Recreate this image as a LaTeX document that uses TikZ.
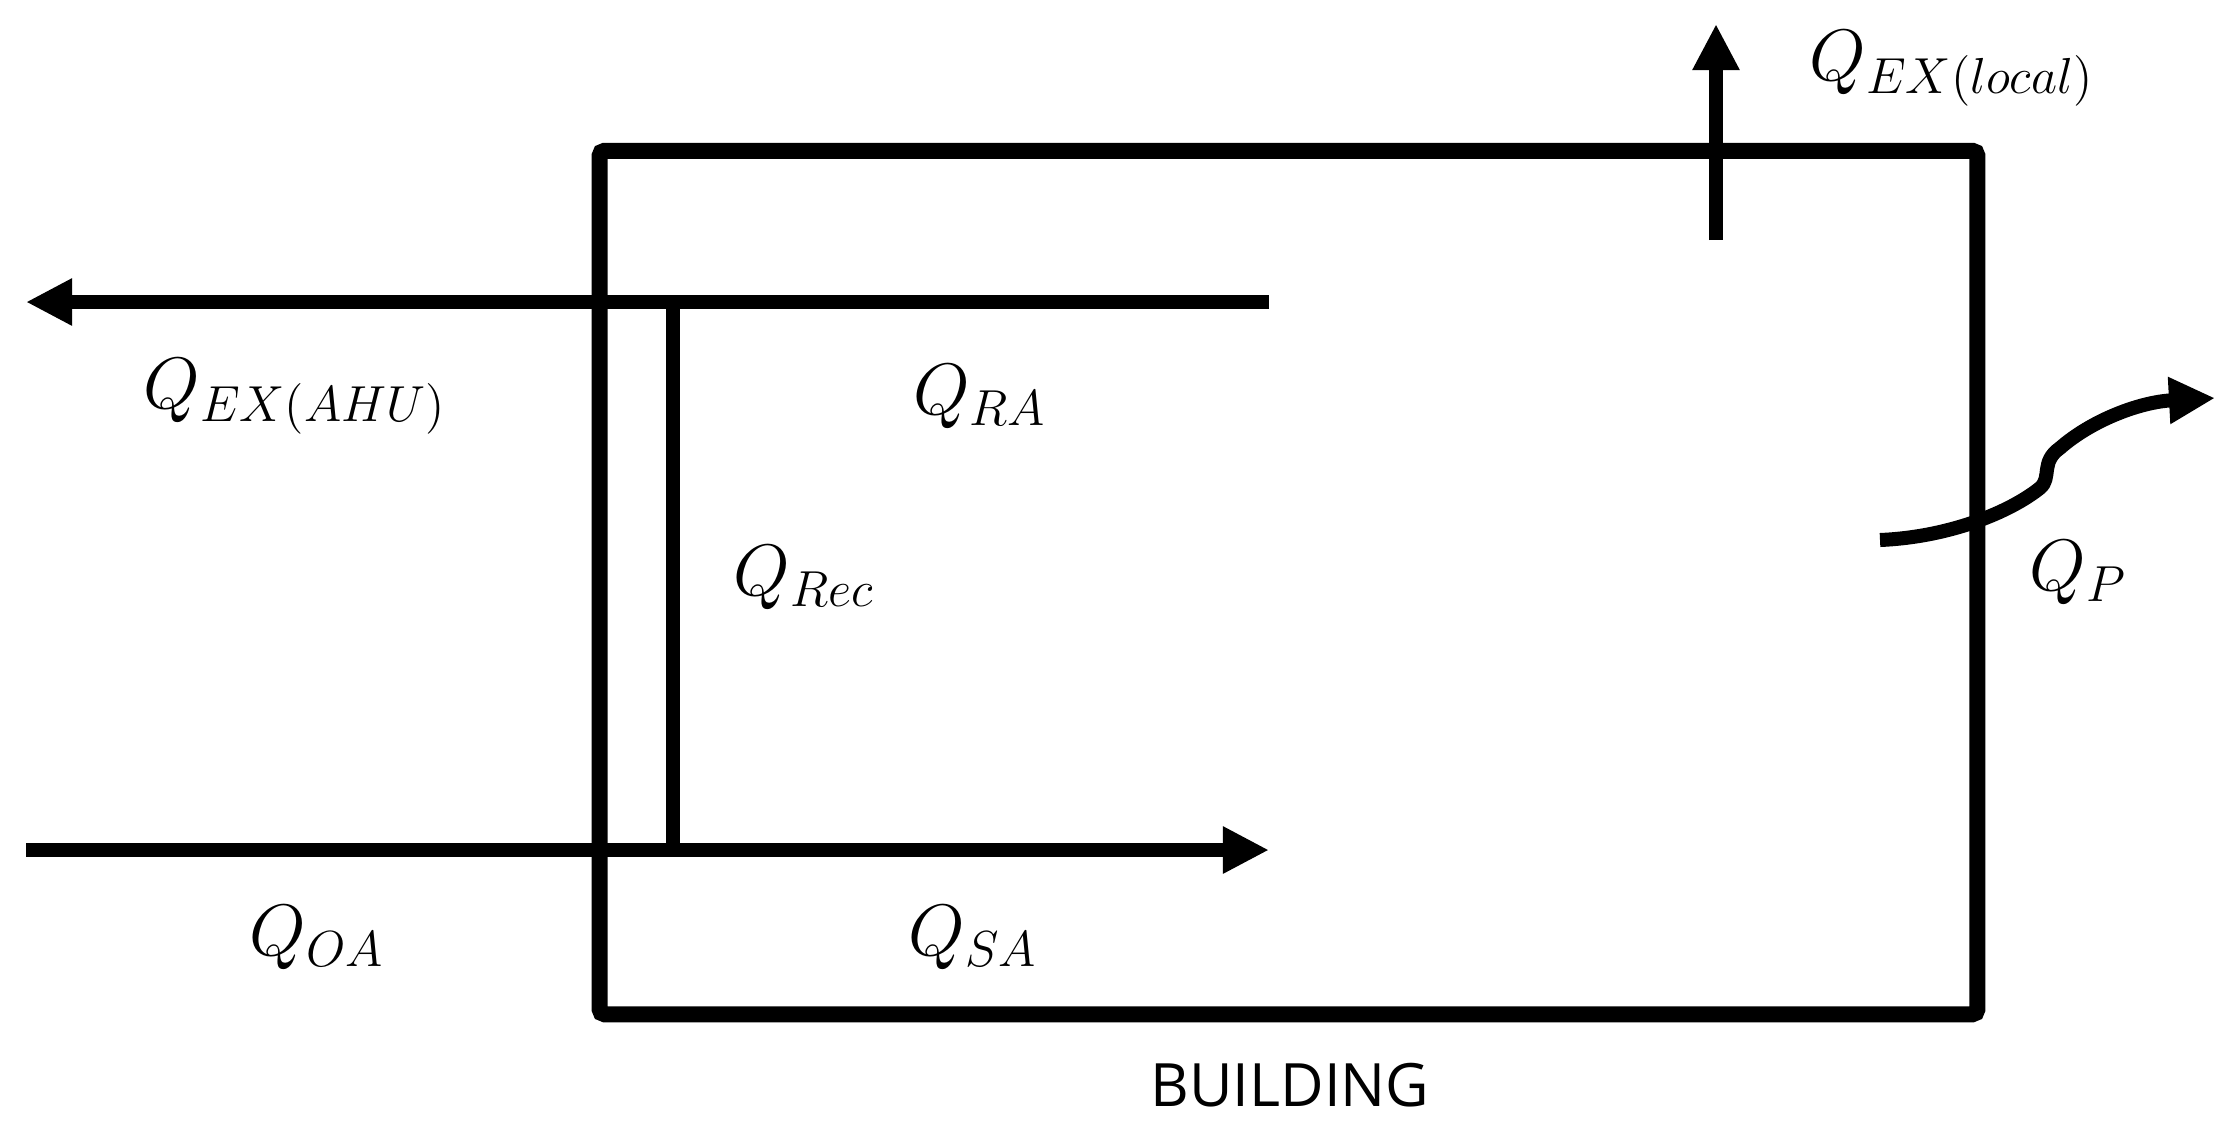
\documentclass[tikz,border=0pt]{standalone}
\usepackage{fontspec}
\newfontfamily\bldfont{Open Sans}
\usetikzlibrary{arrows.meta}
\begin{document}
\begin{tikzpicture}[x=0.01cm,y=-0.01cm,
  wall/.style={line width=0.16cm, rounded corners=0.05cm},
  flow/.style={line width=0.14cm},
  flowarrow/.style={flow, -{Triangle[length=0.46cm,width=0.44cm]}},
  lbl/.style={inner sep=0pt, font=\fontsize{22}{26}\selectfont},
  bldlbl/.style={inner sep=0pt, font=\bldfont\fontsize{17}{20}\selectfont}]
\useasboundingbox (0,0) rectangle (2236,1132);
% building
\node[wall, draw, minimum width=13.77cm, minimum height=8.63cm, inner sep=0pt] (bldg) at (1288.5,582.5) {};
\node[bldlbl] (bldname) at (1290,1085) {BUILDING};
% coordinates
\coordinate (retend) at (1269,302);
\coordinate (rettip) at (26,302);
\coordinate (supstart) at (26,850);
\coordinate (suptip) at (1269,850);
\coordinate (rectop) at (673,302);
\coordinate (recbot) at (673,850);
\coordinate (exstart) at (1716,240);
\coordinate (extip) at (1716,24);
\coordinate (qpstart) at (1880,540);
\coordinate (qptip) at (2215,398);
% flows
\draw[flowarrow] (retend) -- (rettip);
\draw[flowarrow] (supstart) -- (suptip);
\draw[flow] (rectop) -- (recbot);
\draw[flowarrow] (exstart) -- (extip);
\draw[flowarrow] (qpstart) .. controls (1950,537) and (2010,512) .. (2040,488)
  .. controls (2052,478) and (2040,462) .. (2060,448)
  .. controls (2092,420) and (2140,402) .. (qptip);
% labels
\node[lbl] (qexl) at (1952,68) {$Q_{EX(local)}$};
\node[lbl] (qexa) at (295,396) {$Q_{EX(AHU)}$};
\node[lbl] (qra) at (980,397) {$Q_{RA}$};
\node[lbl] (qrec) at (804,578) {$Q_{Rec}$};
\node[lbl] (qoa) at (317,938) {$Q_{OA}$};
\node[lbl] (qsa) at (973,938) {$Q_{SA}$};
\node[lbl] (qp) at (2078,573) {$Q_{P}$};
\end{tikzpicture}
\end{document}
